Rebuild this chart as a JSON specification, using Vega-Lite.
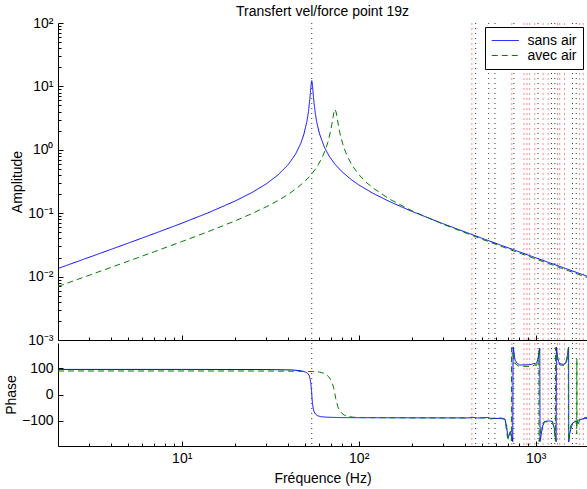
{
  "$schema": "https://vega.github.io/schema/vega-lite/v6.json",
  "padding": {"left": 4, "top": 5, "right": 0, "bottom": 2},
  "background": "white",
  "config": {
    "font": "Liberation Sans",
    "view": {"stroke": null},
    "axis": {
      "domainColor": "black", "tickColor": "black", "labelColor": "black", "titleColor": "black",
      "labelFont": "Liberation Sans", "titleFont": "Liberation Sans",
      "labelFontSize": 14, "titleFontSize": 14, "titleFontWeight": "normal",
      "grid": false, "domainWidth": 1, "tickWidth": 1, "labelOverlap": false, "labelFlush": false
    }
  },
  "datasets": {
    "vblack": [{"f": 54.3}, {"f": 458}, {"f": 543}, {"f": 589}, {"f": 753}, {"f": 1031}, {"f": 1228}, {"f": 1283}, {"f": 1614}, {"f": 1695}],
    "vred": [{"f": 436}, {"f": 733}, {"f": 858}, {"f": 893}, {"f": 925}, {"f": 989}, {"f": 1101}, {"f": 1176}, {"f": 1329}, {"f": 1367}, {"f": 1456}, {"f": 1773}, {"f": 1858}],
    "amp": [
      {"f": 2, "s": "sans air", "v": 0.013425}, {"f": 3, "s": "sans air", "v": 0.020172}, {"f": 4, "s": "sans air", "v": 0.02696},
      {"f": 5, "s": "sans air", "v": 0.033804}, {"f": 7, "s": "sans air", "v": 0.047717}, {"f": 10, "s": "sans air", "v": 0.069388},
      {"f": 14, "s": "sans air", "v": 0.100532}, {"f": 20, "s": "sans air", "v": 0.155113}, {"f": 25, "s": "sans air", "v": 0.212635},
      {"f": 30, "s": "sans air", "v": 0.28938}, {"f": 35, "s": "sans air", "v": 0.401171}, {"f": 40, "s": "sans air", "v": 0.585626},
      {"f": 44, "s": "sans air", "v": 0.856854}, {"f": 47, "s": "sans air", "v": 1.24973}, {"f": 49, "s": "sans air", "v": 1.75096},
      {"f": 51, "s": "sans air", "v": 2.8234}, {"f": 52, "s": "sans air", "v": 3.97761}, {"f": 53, "s": "sans air", "v": 6.40904},
      {"f": 53.5, "s": "sans air", "v": 8.6829}, {"f": 54, "s": "sans air", "v": 11.517}, {"f": 54.3, "s": "sans air", "v": 12.297},
      {"f": 54.6, "s": "sans air", "v": 11.524}, {"f": 55, "s": "sans air", "v": 9.2985}, {"f": 55.5, "s": "sans air", "v": 6.8944},
      {"f": 56, "s": "sans air", "v": 5.3216}, {"f": 57, "s": "sans air", "v": 3.5861}, {"f": 58, "s": "sans air", "v": 2.6921},
      {"f": 60, "s": "sans air", "v": 1.8006}, {"f": 64, "s": "sans air", "v": 1.09796}, {"f": 68, "s": "sans air", "v": 0.80046},
      {"f": 73.5, "s": "sans air", "v": 0.59136}, {"f": 80, "s": "sans air", "v": 0.45781}, {"f": 90, "s": "sans air", "v": 0.34517},
      {"f": 100, "s": "sans air", "v": 0.28029}, {"f": 120, "s": "sans air", "v": 0.20712}, {"f": 150, "s": "sans air", "v": 0.15164},
      {"f": 200, "s": "sans air", "v": 0.10669}, {"f": 300, "s": "sans air", "v": 0.068115}, {"f": 500, "s": "sans air", "v": 0.040002},
      {"f": 700, "s": "sans air", "v": 0.028407}, {"f": 1000, "s": "sans air", "v": 0.019823}, {"f": 1400, "s": "sans air", "v": 0.014139},
      {"f": 1950, "s": "sans air", "v": 0.010144},
      {"f": 2, "s": "avec air", "v": 0.006998}, {"f": 3, "s": "avec air", "v": 0.010507}, {"f": 4, "s": "avec air", "v": 0.014028},
      {"f": 5, "s": "avec air", "v": 0.017564}, {"f": 7, "s": "avec air", "v": 0.0247}, {"f": 10, "s": "avec air", "v": 0.035625},
      {"f": 14, "s": "avec air", "v": 0.050795}, {"f": 20, "s": "avec air", "v": 0.075513}, {"f": 25, "s": "avec air", "v": 0.098826},
      {"f": 30, "s": "avec air", "v": 0.125814}, {"f": 35, "s": "avec air", "v": 0.158165}, {"f": 40, "s": "avec air", "v": 0.198512},
      {"f": 45, "s": "avec air", "v": 0.251273}, {"f": 50, "s": "avec air", "v": 0.324524}, {"f": 54.3, "s": "avec air", "v": 0.416099},
      {"f": 58, "s": "avec air", "v": 0.53347}, {"f": 62, "s": "avec air", "v": 0.740632}, {"f": 65, "s": "avec air", "v": 1.01429},
      {"f": 67, "s": "avec air", "v": 1.32058}, {"f": 69, "s": "avec air", "v": 1.84189}, {"f": 70.5, "s": "avec air", "v": 2.5162},
      {"f": 71.5, "s": "avec air", "v": 3.18124}, {"f": 72.5, "s": "avec air", "v": 3.95088}, {"f": 73.5, "s": "avec air", "v": 4.35593},
      {"f": 74.5, "s": "avec air", "v": 3.96054}, {"f": 75.5, "s": "avec air", "v": 3.22135}, {"f": 77, "s": "avec air", "v": 2.33222},
      {"f": 79, "s": "avec air", "v": 1.64706}, {"f": 82, "s": "avec air", "v": 1.13165}, {"f": 86, "s": "avec air", "v": 0.800901},
      {"f": 92, "s": "avec air", "v": 0.562837}, {"f": 100, "s": "avec air", "v": 0.409027}, {"f": 110, "s": "avec air", "v": 0.309446},
      {"f": 120, "s": "avec air", "v": 0.251502}, {"f": 150, "s": "avec air", "v": 0.1656}, {"f": 200, "s": "avec air", "v": 0.10916},
      {"f": 300, "s": "avec air", "v": 0.066985}, {"f": 500, "s": "avec air", "v": 0.038613}, {"f": 700, "s": "avec air", "v": 0.027286},
      {"f": 1000, "s": "avec air", "v": 0.018992}, {"f": 1400, "s": "avec air", "v": 0.01353}, {"f": 1950, "s": "avec air", "v": 0.0097}
    ],
    "phase": [
      {"f": 2, "s": "sans air", "p": 95}, {"f": 10, "s": "sans air", "p": 95}, {"f": 30, "s": "sans air", "p": 94.5},
      {"f": 42, "s": "sans air", "p": 93}, {"f": 47, "s": "sans air", "p": 90}, {"f": 50, "s": "sans air", "p": 85},
      {"f": 51.5, "s": "sans air", "p": 80}, {"f": 52.5, "s": "sans air", "p": 72}, {"f": 53.2, "s": "sans air", "p": 58},
      {"f": 53.7, "s": "sans air", "p": 40}, {"f": 54.1, "s": "sans air", "p": 15}, {"f": 54.5, "s": "sans air", "p": -15},
      {"f": 54.9, "s": "sans air", "p": -38}, {"f": 55.4, "s": "sans air", "p": -55}, {"f": 56, "s": "sans air", "p": -66},
      {"f": 57, "s": "sans air", "p": -74}, {"f": 58.5, "s": "sans air", "p": -80}, {"f": 61, "s": "sans air", "p": -84},
      {"f": 66, "s": "sans air", "p": -86}, {"f": 80, "s": "sans air", "p": -87.5}, {"f": 150, "s": "sans air", "p": -88},
      {"f": 300, "s": "sans air", "p": -88.5}, {"f": 420, "s": "sans air", "p": -88.5}, {"f": 435, "s": "sans air", "p": -86},
      {"f": 470, "s": "sans air", "p": -89}, {"f": 540, "s": "sans air", "p": -87}, {"f": 555, "s": "sans air", "p": -92},
      {"f": 620, "s": "sans air", "p": -90}, {"f": 670, "s": "sans air", "p": -93}, {"f": 685, "s": "sans air", "p": -120},
      {"f": 698, "s": "sans air", "p": -165}, {"f": 710, "s": "sans air", "p": -150}, {"f": 720, "s": "sans air", "p": -140},
      {"f": 732, "s": "sans air", "p": -160}, {"f": 742, "s": "sans air", "p": -178}, {"f": 745.5, "s": "sans air", "p": 180},
      {"f": 754, "s": "sans air", "p": 160}, {"f": 765, "s": "sans air", "p": 130}, {"f": 785, "s": "sans air", "p": 118},
      {"f": 812, "s": "sans air", "p": 112}, {"f": 900, "s": "sans air", "p": 112}, {"f": 950, "s": "sans air", "p": 114},
      {"f": 975, "s": "sans air", "p": 118}, {"f": 995, "s": "sans air", "p": 116}, {"f": 1015, "s": "sans air", "p": 120},
      {"f": 1036, "s": "sans air", "p": 140}, {"f": 1055, "s": "sans air", "p": 175}, {"f": 1059, "s": "sans air", "p": -178},
      {"f": 1075, "s": "sans air", "p": -150}, {"f": 1095, "s": "sans air", "p": -120}, {"f": 1124, "s": "sans air", "p": -102},
      {"f": 1180, "s": "sans air", "p": -100}, {"f": 1243, "s": "sans air", "p": -102}, {"f": 1275, "s": "sans air", "p": -130},
      {"f": 1300, "s": "sans air", "p": -170}, {"f": 1305, "s": "sans air", "p": -179}, {"f": 1310, "s": "sans air", "p": 179},
      {"f": 1325, "s": "sans air", "p": 150}, {"f": 1345, "s": "sans air", "p": 125}, {"f": 1366, "s": "sans air", "p": 117},
      {"f": 1426, "s": "sans air", "p": 114}, {"f": 1477, "s": "sans air", "p": 118}, {"f": 1503, "s": "sans air", "p": 140},
      {"f": 1530, "s": "sans air", "p": 170}, {"f": 1535, "s": "sans air", "p": 179}, {"f": 1538, "s": "sans air", "p": -179},
      {"f": 1555, "s": "sans air", "p": -150}, {"f": 1577, "s": "sans air", "p": -132}, {"f": 1624, "s": "sans air", "p": -107},
      {"f": 1698, "s": "sans air", "p": -100}, {"f": 1720, "s": "sans air", "p": -105}, {"f": 1743, "s": "sans air", "p": -110},
      {"f": 1765, "s": "sans air", "p": -100}, {"f": 1789, "s": "sans air", "p": -95}, {"f": 1850, "s": "sans air", "p": -92},
      {"f": 1950, "s": "sans air", "p": -90},
      {"f": 2, "s": "avec air", "p": 89}, {"f": 20, "s": "avec air", "p": 89}, {"f": 40, "s": "avec air", "p": 88.5},
      {"f": 55, "s": "avec air", "p": 87}, {"f": 60, "s": "avec air", "p": 85}, {"f": 63, "s": "avec air", "p": 81},
      {"f": 65.5, "s": "avec air", "p": 76}, {"f": 67.5, "s": "avec air", "p": 68}, {"f": 69.5, "s": "avec air", "p": 56},
      {"f": 71, "s": "avec air", "p": 42}, {"f": 72, "s": "avec air", "p": 28}, {"f": 73, "s": "avec air", "p": 12},
      {"f": 73.5, "s": "avec air", "p": 0}, {"f": 74.2, "s": "avec air", "p": -16}, {"f": 75, "s": "avec air", "p": -30},
      {"f": 76.5, "s": "avec air", "p": -48}, {"f": 78, "s": "avec air", "p": -61}, {"f": 80, "s": "avec air", "p": -70},
      {"f": 83, "s": "avec air", "p": -78}, {"f": 87, "s": "avec air", "p": -83}, {"f": 93, "s": "avec air", "p": -86},
      {"f": 105, "s": "avec air", "p": -87.5}, {"f": 200, "s": "avec air", "p": -88.5}, {"f": 420, "s": "avec air", "p": -89},
      {"f": 440, "s": "avec air", "p": -87}, {"f": 480, "s": "avec air", "p": -88}, {"f": 560, "s": "avec air", "p": -90},
      {"f": 640, "s": "avec air", "p": -89}, {"f": 672, "s": "avec air", "p": -95}, {"f": 688, "s": "avec air", "p": -150},
      {"f": 700, "s": "avec air", "p": -170}, {"f": 712, "s": "avec air", "p": -145}, {"f": 722, "s": "avec air", "p": -150},
      {"f": 729, "s": "avec air", "p": -176}, {"f": 731, "s": "avec air", "p": 178}, {"f": 740, "s": "avec air", "p": 165},
      {"f": 752, "s": "avec air", "p": 135}, {"f": 770, "s": "avec air", "p": 115}, {"f": 800, "s": "avec air", "p": 108},
      {"f": 900, "s": "avec air", "p": 106}, {"f": 960, "s": "avec air", "p": 108}, {"f": 990, "s": "avec air", "p": 112},
      {"f": 1010, "s": "avec air", "p": 110}, {"f": 1030, "s": "avec air", "p": 125}, {"f": 1042, "s": "avec air", "p": 170},
      {"f": 1045, "s": "avec air", "p": -178}, {"f": 1060, "s": "avec air", "p": -150}, {"f": 1080, "s": "avec air", "p": -118},
      {"f": 1110, "s": "avec air", "p": -104}, {"f": 1240, "s": "avec air", "p": -102}, {"f": 1270, "s": "avec air", "p": -125},
      {"f": 1292, "s": "avec air", "p": -175}, {"f": 1296, "s": "avec air", "p": 178}, {"f": 1315, "s": "avec air", "p": 145},
      {"f": 1340, "s": "avec air", "p": 118}, {"f": 1370, "s": "avec air", "p": 112}, {"f": 1450, "s": "avec air", "p": 110},
      {"f": 1490, "s": "avec air", "p": 118}, {"f": 1515, "s": "avec air", "p": 145}, {"f": 1528, "s": "avec air", "p": 175},
      {"f": 1532, "s": "avec air", "p": -178}, {"f": 1550, "s": "avec air", "p": -150}, {"f": 1580, "s": "avec air", "p": -118},
      {"f": 1620, "s": "avec air", "p": -105}, {"f": 1680, "s": "avec air", "p": -100}, {"f": 1704, "s": "avec air", "p": -110},
      {"f": 1707, "s": "avec air", "p": -150}, {"f": 1709, "s": "avec air", "p": 136}, {"f": 1711, "s": "avec air", "p": -120},
      {"f": 1716, "s": "avec air", "p": -100}, {"f": 1760, "s": "avec air", "p": -96}, {"f": 1850, "s": "avec air", "p": -90},
      {"f": 1950, "s": "avec air", "p": -86}
    ]
  },
  "vconcat": [
    {
      "width": 529,
      "height": 317,
      "title": {"text": "Transfert vel/force point 19z", "fontSize": 14, "fontWeight": "normal", "font": "Liberation Sans", "color": "black", "frame": "group", "anchor": "middle", "offset": -3},
      "layer": [
        {
          "data": {"name": "vblack"},
          "mark": {"type": "rule", "color": "black", "strokeDash": [1, 4], "strokeWidth": 1, "opacity": 0.8},
          "encoding": {"x": {"field": "f", "type": "quantitative", "scale": {"type": "log", "domain": [2, 1950], "nice": false, "zero": false}}}
        },
        {
          "data": {"name": "vred"},
          "mark": {"type": "rule", "color": "red", "strokeDash": [2, 3], "strokeWidth": 1, "opacity": 0.45},
          "encoding": {"x": {"field": "f", "type": "quantitative", "scale": {"type": "log", "domain": [2, 1950], "nice": false, "zero": false}}}
        },
        {
          "data": {"name": "amp"},
          "mark": {"type": "line", "strokeWidth": 1, "clip": true},
          "encoding": {
            "x": {"field": "f", "type": "quantitative",
              "scale": {"type": "log", "domain": [2, 1950], "nice": false, "zero": false},
              "axis": {"title": null, "labels": false,
                "values": [2,3,4,5,6,7,8,9,10,20,30,40,50,60,70,80,90,100,200,300,400,500,600,700,800,900,1000],
                "tickSize": {"condition": {"test": "indexof([10,100,1000], datum.value) >= 0", "value": -5}, "value": -3}}},
            "y": {"field": "v", "type": "quantitative",
              "scale": {"type": "log", "domain": [0.001, 100], "nice": false, "zero": false},
              "axis": {"title": "Amplitude", "titlePadding": 3,
                "values": [0.001,0.002,0.003,0.004,0.005,0.006,0.007,0.008,0.009,0.01,0.02,0.03,0.04,0.05,0.06,0.07,0.08,0.09,0.1,0.2,0.3,0.4,0.5,0.6,0.7,0.8,0.9,1,2,3,4,5,6,7,8,9,10,20,30,40,50,60,70,80,90,100],
                "labelExpr": "datum.value==0.001?'10⁻³':datum.value==0.01?'10⁻²':datum.value==0.1?'10⁻¹':datum.value==1?'10⁰':datum.value==10?'10¹':datum.value==100?'10²':''",
                "labelPadding": 10,
                "tickSize": {"condition": {"test": "indexof([0.001,0.01,0.1,1,10,100], datum.value) >= 0", "value": -5}, "value": -3}}},
            "color": {"field": "s", "type": "nominal",
              "scale": {"domain": ["sans air", "avec air"], "range": ["#0000ff", "#008000"]},
              "legend": {"title": null, "orient": "none", "legendX": 427, "legendY": 4, "symbolType": "M-1,0H3", "symbolSize": 182, "symbolStrokeWidth": 1,
                "labelFontSize": 14, "labelFont": "Liberation Sans", "labelColor": "black", "labelOffset": 21.5, "padding": 6, "rowPadding": 0,
                "strokeColor": "black", "fillColor": "white", "cornerRadius": 0}},
            "strokeDash": {"field": "s", "type": "nominal",
              "scale": {"domain": ["sans air", "avec air"], "range": [[1, 0], [6, 4]]},
              "legend": {"title": null, "orient": "none", "legendX": 427, "legendY": 4, "symbolType": "M-1,0H3", "symbolSize": 182, "symbolStrokeWidth": 1,
                "labelFontSize": 14, "labelFont": "Liberation Sans", "labelColor": "black", "labelOffset": 21.5, "padding": 6, "rowPadding": 0,
                "strokeColor": "black", "fillColor": "white", "cornerRadius": 0}}
          }
        }
      ]
    },
    {
      "width": 529,
      "height": 103,
      "layer": [
        {
          "data": {"name": "vblack"},
          "mark": {"type": "rule", "color": "black", "strokeDash": [1, 4], "strokeWidth": 1, "opacity": 0.8},
          "encoding": {"x": {"field": "f", "type": "quantitative", "scale": {"type": "log", "domain": [2, 1950], "nice": false, "zero": false}}}
        },
        {
          "data": {"name": "vred"},
          "mark": {"type": "rule", "color": "red", "strokeDash": [2, 3], "strokeWidth": 1, "opacity": 0.45},
          "encoding": {"x": {"field": "f", "type": "quantitative", "scale": {"type": "log", "domain": [2, 1950], "nice": false, "zero": false}}}
        },
        {
          "data": {"name": "phase"},
          "mark": {"type": "line", "strokeWidth": 1, "clip": true},
          "encoding": {
            "x": {"field": "f", "type": "quantitative",
              "scale": {"type": "log", "domain": [2, 1950], "nice": false, "zero": false},
              "axis": {"title": "Fréquence (Hz)", "titlePadding": 4,
                "values": [2,3,4,5,6,7,8,9,10,20,30,40,50,60,70,80,90,100,200,300,400,500,600,700,800,900,1000],
                "labelExpr": "datum.value==10?'10¹':datum.value==100?'10²':datum.value==1000?'10³':''",
                "labelPadding": 10,
                "tickSize": {"condition": {"test": "indexof([10,100,1000], datum.value) >= 0", "value": -5}, "value": -3}}},
            "y": {"field": "p", "type": "quantitative",
              "scale": {"domain": [-195, 195], "nice": false, "zero": false},
              "axis": {"title": "Phase", "titlePadding": 3, "values": [-100, 0, 100], "labelPadding": 10, "tickSize": -5}},
            "color": {"field": "s", "type": "nominal", "scale": {"domain": ["sans air", "avec air"], "range": ["#0000ff", "#008000"]}, "legend": null},
            "strokeDash": {"field": "s", "type": "nominal", "scale": {"domain": ["sans air", "avec air"], "range": [[1, 0], [6, 4]]}, "legend": null}
          }
        }
      ]
    }
  ],
  "spacing": 3,
  "bounds": "flush",
  "resolve": {"legend": {"color": "independent", "strokeDash": "independent"}}
}
